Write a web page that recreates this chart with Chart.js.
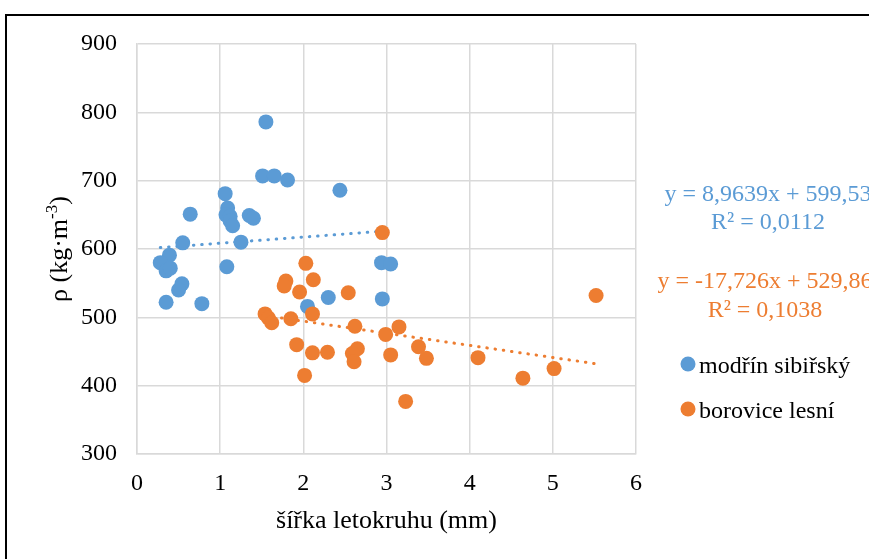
<!DOCTYPE html>
<html>
<head>
<meta charset="utf-8">
<script src="https://cdn.jsdelivr.net/npm/chart.js@4"></script>
<style>
  html, body { margin: 0; padding: 0; background: #fff; overflow: hidden; }
  #wrap { width: 869px; height: 559px; position: relative; }
</style>
</head>
<body>
<div id="wrap"><canvas id="c" width="869" height="559"></canvas></div>
<script>
// Axis ticks
const xTicks = [0, 1, 2, 3, 4, 5, 6];
const yTicks = [300, 400, 500, 600, 700, 800, 900];

// Series names
const seriesNames = ['modřín sibiřský', 'borovice lesní'];

// Ring width (mm) and wood density (kg·m-3), Siberian larch
const modrinX = [1.55, 1.51, 1.65, 1.81, 2.44, 1.06, 0.64, 1.09, 1.07, 1.12, 1.12, 1.15, 1.35, 1.40,
                 0.55, 1.25, 0.39, 0.28, 0.35, 0.40, 1.08, 0.54, 0.50, 0.35, 0.78, 2.30, 2.05,
                 2.94, 3.05, 2.95];
const modrinY = [786, 707, 707, 701, 686, 681, 651, 660, 650, 648, 641, 634, 649, 645,
                 609, 610, 591, 580, 568, 572, 574, 549, 540, 522, 520, 529, 516,
                 580, 578, 527];

// Ring width (mm) and wood density (kg·m-3), Scots pine
const boroviceX = [2.95, 2.03, 1.79, 1.77, 2.12, 1.955, 2.54, 1.54, 1.58, 1.62, 1.85, 2.11, 2.62,
                   2.99, 3.15, 1.92, 2.11, 2.29, 2.65, 2.59, 2.61, 3.05, 3.385, 3.48, 4.10,
                   2.015, 3.23, 5.52, 5.015, 4.64];
const boroviceY = [624, 579, 553, 546, 555, 537, 536, 505, 499, 492, 498, 505, 487,
                   475, 486, 460, 448, 449, 454, 447, 435, 445, 457, 440, 441,
                   415, 377, 532, 425, 411];

// Linear trendlines: [slope, intercept, R²]
const modrinFit = [8.9639, 599.53, 0.0112];
const boroviceFit = [-17.726, 529.86, 0.1038];

const BLUE = '#5b9bd5';
const ORANGE = '#ed7d31';
const SERIF = '"Liberation Serif", "Times New Roman", serif';

const toPoints = (xs, ys) => xs.map((x, i) => ({ x: x, y: ys[i] }));
const trend = (xs, fit) => {
  const lo = Math.min(...xs), hi = Math.max(...xs);
  return [{ x: lo, y: fit[0] * lo + fit[1] }, { x: hi, y: fit[0] * hi + fit[1] }];
};
const cz = v => String(v).replace('.', ',');
const eqText = fit => 'y = ' + cz(fit[0]) + 'x + ' + cz(fit[1]);
const r2Text = fit => 'R² = ' + cz(fit[2]);

// Frame, axis title, trendline labels and legend
const decor = {
  id: 'decor',
  beforeDraw(chart) {
    const ctx = chart.ctx;
    ctx.save();
    ctx.fillStyle = '#fff';
    ctx.fillRect(0, 0, chart.width, chart.height);
    ctx.restore();
  },
  afterDraw(chart) {
    const ctx = chart.ctx;
    const a = chart.chartArea;
    ctx.save();

    // outer frame
    ctx.strokeStyle = '#000';
    ctx.lineWidth = 2;
    ctx.strokeRect(6, 15, 2000, 2000);

    // y axis title with superscript
    ctx.save();
    ctx.translate(67, (a.top + a.bottom) / 2);
    ctx.rotate(-Math.PI / 2);
    ctx.fillStyle = '#000';
    ctx.textBaseline = 'alphabetic';
    const main = 'ρ (kg·m', sup = '-3', close = ')';
    const fMain = '26px ' + SERIF, fSup = '17px ' + SERIF;
    ctx.font = fMain;
    const w1 = ctx.measureText(main).width, w3 = ctx.measureText(close).width;
    ctx.font = fSup;
    const w2 = ctx.measureText(sup).width;
    let sx = -(w1 + w2 + w3) / 2;
    ctx.font = fMain; ctx.textAlign = 'left';
    ctx.fillText(main, sx, 0);
    ctx.font = fSup;
    ctx.fillText(sup, sx + w1, -10);
    ctx.font = fMain;
    ctx.fillText(close, sx + w1 + w2, 0);
    ctx.restore();

    // x axis title
    ctx.fillStyle = '#000';
    ctx.font = '26px ' + SERIF;
    ctx.textAlign = 'center';
    ctx.textBaseline = 'alphabetic';
    ctx.fillText('šířka letokruhu (mm)', (a.left + a.right) / 2, 528);

    // trendline equations
    ctx.font = '24px ' + SERIF;
    ctx.fillStyle = BLUE;
    ctx.fillText(eqText(modrinFit), 768, 201);
    ctx.fillText(r2Text(modrinFit), 768, 229);
    ctx.fillStyle = ORANGE;
    ctx.fillText(eqText(boroviceFit), 765, 288);
    ctx.fillText(r2Text(boroviceFit), 765, 317);

    // legend
    const items = [[seriesNames[0], BLUE, 364], [seriesNames[1], ORANGE, 409]];
    ctx.textAlign = 'left';
    ctx.textBaseline = 'alphabetic';
    items.forEach(([label, color, y]) => {
      ctx.fillStyle = color;
      ctx.beginPath();
      ctx.arc(688, y, 7.5, 0, Math.PI * 2);
      ctx.fill();
      ctx.fillStyle = '#000';
      ctx.fillText(label, 699, y + 9);
    });
    ctx.restore();
  }
};

const trendStyle = color => ({
  type: 'line',
  showLine: true,
  borderColor: color,
  borderWidth: 3,
  borderDash: [0.5, 7.8],
  borderCapStyle: 'round',
  pointRadius: 0,
  fill: false,
  order: 3
});

new Chart(document.getElementById('c'), {
  type: 'scatter',
  data: {
    datasets: [
      { label: seriesNames[1], data: toPoints(boroviceX, boroviceY), backgroundColor: ORANGE,
        borderWidth: 0, pointRadius: 7.5, order: 1 },
      { label: seriesNames[0], data: toPoints(modrinX, modrinY), backgroundColor: BLUE,
        borderWidth: 0, pointRadius: 7.5, order: 2 },
      Object.assign({ label: 'trend-m', data: trend(modrinX, modrinFit) }, trendStyle(BLUE)),
      Object.assign({ label: 'trend-b', data: trend(boroviceX, boroviceFit) }, trendStyle(ORANGE))
    ]
  },
  options: {
    responsive: false,
    animation: false,
    devicePixelRatio: 1,
    events: [],
    layout: { padding: { top: 44, right: 233, bottom: 0, left: 0 } },
    plugins: { legend: { display: false }, tooltip: { enabled: false } },
    scales: {
      x: {
        type: 'linear', min: xTicks[0], max: xTicks[xTicks.length - 1],
        afterBuildTicks: s => { s.ticks = xTicks.map(v => ({ value: v })); },
        afterFit: s => { s.height = 105; },
        grid: { color: '#d9d9d9', lineWidth: 1.5, drawTicks: false },
        border: { color: '#d9d9d9', width: 1.5 },
        ticks: { color: '#000', font: { family: SERIF, size: 24 }, padding: 15 }
      },
      y: {
        type: 'linear', min: yTicks[0], max: yTicks[yTicks.length - 1],
        afterBuildTicks: s => { s.ticks = yTicks.map(v => ({ value: v })); },
        afterFit: s => { s.width = 137; },
        grid: { color: '#d9d9d9', lineWidth: 1.5, drawTicks: false },
        border: { color: '#d9d9d9', width: 1.5 },
        ticks: { color: '#000', font: { family: SERIF, size: 24 }, padding: 20 }
      }
    }
  },
  plugins: [decor]
});
</script>
</body>
</html>
